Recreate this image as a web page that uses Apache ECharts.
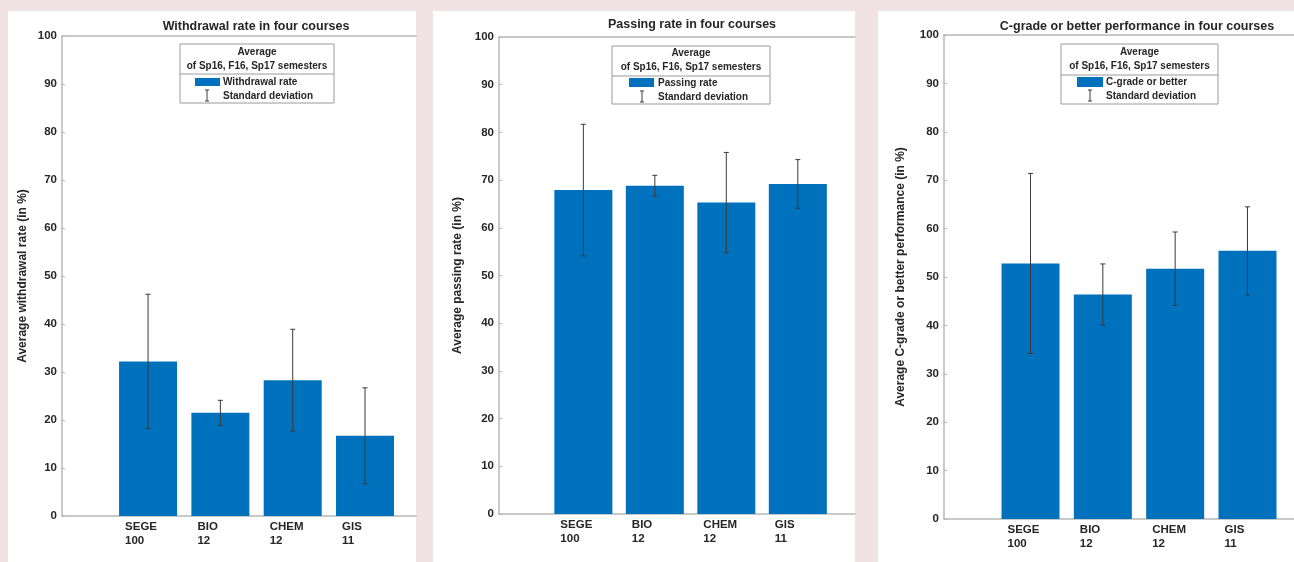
<!DOCTYPE html>
<html>
<head>
<meta charset="utf-8">
<script src="https://cdn.jsdelivr.net/npm/echarts@6/dist/echarts.min.js"></script>
<style>
html,body{margin:0;padding:0;background:#f1e2e6;}
#chart{width:1294px;height:562px;}
</style>
</head>
<body>
<div id="chart"></div>
<script>
// ---------- data ----------
const categories = ['SEGE', 'BIO', 'CHEM', 'GIS'];
const enrollment = ['100', '12', '12', '11'];

const withdrawalMean = [32.2, 21.5, 28.3, 16.7];
const withdrawalSD   = [14.0, 2.6, 10.6, 10.0];

const passingMean = [67.9, 68.8, 65.3, 69.2];
const passingSD   = [13.8, 2.2, 10.5, 5.1];

const cgradeMean = [52.8, 46.4, 51.7, 55.4];
const cgradeSD   = [18.6, 6.3, 7.6, 9.1];

const panelTitles = ['Withdrawal rate in four courses', 'Passing rate in four courses', 'C-grade or better performance in four courses'];
const yAxisNames = ['Average withdrawal rate (in %)', 'Average passing rate (in %)', 'Average C-grade or better performance (in %)'];
const seriesNames = ['Withdrawal rate', 'Passing rate', 'C-grade or better'];
const legendTitle = ['Average', 'of Sp16, F16, Sp17 semesters'];
const sdName = 'Standard deviation';

const means = [withdrawalMean, passingMean, cgradeMean];
const sds = [withdrawalSD, passingSD, cgradeSD];

// ---------- layout ----------
const panels = [
  {rect:[8,11,408,551], grid:{left:62, top:36, width:354, height:480}, xmin:-0.19, xmax:4.705, nameGap:33,
   titleX:256, titleY:27,
   legend:{x:180, y:44, w:154, h:59, div:74, l1:52, l2:66, bx:195, by:78, bw:25, bh:8, ix:207, tx:223, t1:82, t2:96}},
  {rect:[433,11,422,551], grid:{left:499, top:37, width:356, height:477}, xmin:-0.18, xmax:4.80, nameGap:35,
   titleX:692, titleY:25,
   legend:{x:612, y:46, w:158, h:58, div:76, l1:53, l2:67, bx:629, by:78, bw:25, bh:9, ix:642, tx:658, t1:83, t2:97}},
  {rect:[878,11,416,551], grid:{left:944, top:35, width:350, height:484}, xmin:-0.196, xmax:4.643, nameGap:37,
   titleX:1137, titleY:27,
   legend:{x:1061, y:44, w:157, h:60, div:75, l1:52, l2:66, bx:1077, by:77, bw:26, bh:10, ix:1090, tx:1106, t1:82, t2:96}}
];

const BAR = '#0072BD';
const TXT = '#262626';
const AX = '#b8b8b8';
const FONT = 'Liberation Sans, Arial, sans-serif';

const grids = [], xAxes = [], yAxes = [], series = [], graphics = [];

panels.forEach((p, i) => {
  graphics.push({type:'rect', z:-10, silent:true,
    shape:{x:p.rect[0], y:p.rect[1], width:p.rect[2], height:p.rect[3]}, style:{fill:'#ffffff'}});
  grids.push(Object.assign({containLabel:false}, p.grid));
  xAxes.push({
    type:'value', gridIndex:i, min:p.xmin, max:p.xmax, position:'bottom',
    axisLine:{show:true, onZero:false, lineStyle:{color:AX, width:1.5}},
    axisTick:{show:false}, splitLine:{show:false},
    axisLabel:{
      customValues:[1,2,3,4], margin:4, hideOverlap:false,
      formatter:(v) => {
        const k = Math.round(v) - 1;
        return '{a|' + categories[k] + '}\n{a|' + enrollment[k] + '}';
      },
      rich:{a:{width:46, align:'left', fontSize:11.5, fontWeight:'bold', color:TXT, fontFamily:FONT, lineHeight:14}}
    }
  });
  xAxes.push({
    type:'value', gridIndex:i, min:p.xmin, max:p.xmax, position:'top',
    axisLine:{show:true, onZero:false, lineStyle:{color:AX, width:1.5}},
    axisTick:{show:false}, axisLabel:{show:false}, splitLine:{show:false}
  });
  yAxes.push({
    type:'value', gridIndex:i, min:0, max:100, interval:10,
    name:yAxisNames[i], nameLocation:'middle', nameGap:p.nameGap,
    nameTextStyle:{fontSize:12, fontWeight:'bold', color:TXT, fontFamily:FONT},
    axisLine:{show:true, onZero:false, lineStyle:{color:AX, width:1.5}},
    axisTick:{show:true, inside:true, length:3, lineStyle:{color:AX}},
    axisLabel:{fontSize:11.5, fontWeight:'bold', color:TXT, fontFamily:FONT, margin:5},
    splitLine:{show:false}
  });
  series.push({
    type:'bar', name:seriesNames[i], xAxisIndex:2*i, yAxisIndex:i,
    barWidth:58, itemStyle:{color:BAR},
    data: categories.map((c, j) => [j + 1, means[i][j]])
  });
  series.push({
    type:'custom', name:sdName, xAxisIndex:2*i, yAxisIndex:i, z:5,
    data: categories.map((c, j) => [j + 1, means[i][j] - sds[i][j], means[i][j] + sds[i][j]]),
    renderItem:(params, api) => {
      const x = api.value(0);
      const lo = api.coord([x, api.value(1)]);
      const hi = api.coord([x, api.value(2)]);
      const cap = 2.5;
      const st = {stroke:'#3a3a3a', lineWidth:1};
      return {type:'group', children:[
        {type:'line', shape:{x1:lo[0], y1:hi[1], x2:lo[0], y2:lo[1]}, style:st},
        {type:'line', shape:{x1:lo[0]-cap, y1:hi[1], x2:lo[0]+cap, y2:hi[1]}, style:st},
        {type:'line', shape:{x1:lo[0]-cap, y1:lo[1], x2:lo[0]+cap, y2:lo[1]}, style:st}
      ]};
    }
  });

  // title
  graphics.push({type:'text', x:p.titleX, y:p.titleY,
    style:{text:panelTitles[i], fill:TXT, font:'bold 12.5px ' + FONT, textAlign:'center', textVerticalAlign:'middle'}});

  // legend box
  const L = p.legend;
  const cx = L.x + L.w / 2;
  graphics.push({type:'rect', shape:{x:L.x, y:L.y, width:L.w, height:L.h},
    style:{fill:'#ffffff', stroke:'#9a9a9a', lineWidth:1}, z:10});
  graphics.push({type:'line', shape:{x1:L.x, y1:L.div, x2:L.x + L.w, y2:L.div},
    style:{stroke:'#9a9a9a', lineWidth:1}, z:11});
  graphics.push({type:'text', x:cx, y:L.l1, z:11,
    style:{text:legendTitle[0], fill:TXT, font:'bold 10px ' + FONT, textAlign:'center', textVerticalAlign:'middle'}});
  graphics.push({type:'text', x:cx, y:L.l2, z:11,
    style:{text:legendTitle[1], fill:TXT, font:'bold 10px ' + FONT, textAlign:'center', textVerticalAlign:'middle'}});
  graphics.push({type:'rect', shape:{x:L.bx, y:L.by, width:L.bw, height:L.bh}, z:11,
    style:{fill:BAR}});
  graphics.push({type:'text', x:L.tx, y:L.t1, z:11,
    style:{text:seriesNames[i], fill:TXT, font:'bold 10px ' + FONT, textAlign:'left', textVerticalAlign:'middle'}});
  graphics.push({type:'line', shape:{x1:L.ix, y1:L.t2 - 6, x2:L.ix, y2:L.t2 + 5}, z:11, style:{stroke:'#3a3a3a', lineWidth:1}});
  graphics.push({type:'line', shape:{x1:L.ix - 2, y1:L.t2 - 6, x2:L.ix + 2, y2:L.t2 - 6}, z:11, style:{stroke:'#3a3a3a', lineWidth:1}});
  graphics.push({type:'line', shape:{x1:L.ix - 2, y1:L.t2 + 5, x2:L.ix + 2, y2:L.t2 + 5}, z:11, style:{stroke:'#3a3a3a', lineWidth:1}});
  graphics.push({type:'text', x:L.tx, y:L.t2, z:11,
    style:{text:sdName, fill:TXT, font:'bold 10px ' + FONT, textAlign:'left', textVerticalAlign:'middle'}});
});

const chart = echarts.init(document.getElementById('chart'), null, {renderer:'canvas'});
chart.setOption({
  backgroundColor:'#f1e2e6',
  animation:false,
  textStyle:{fontFamily:FONT},
  grid:grids, xAxis:xAxes, yAxis:yAxes, series:series,
  graphic:{elements:graphics}
});
</script>
</body>
</html>
